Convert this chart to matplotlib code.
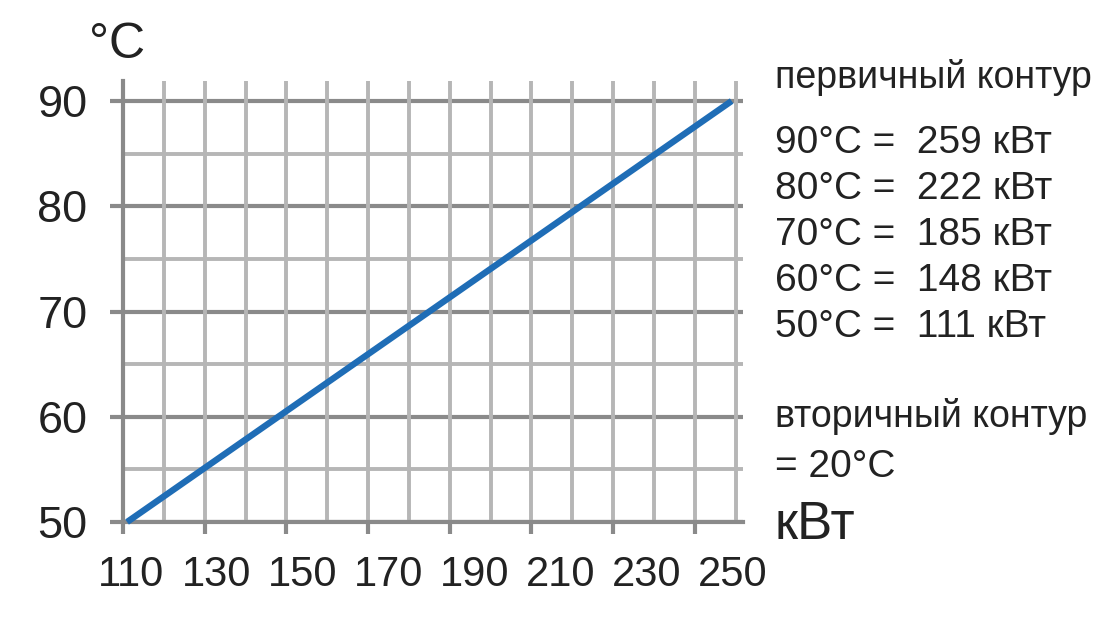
'''
Heat exchanger output vs primary circuit temperature (secondary circuit 20°C)
'''
import matplotlib
matplotlib.use('Agg')
import matplotlib.pyplot as plt
import numpy as np

plt.rcParams['font.family'] = ['Liberation Sans', 'DejaVu Sans']

# data
power_kw = [111, 148, 185, 222, 259]
temp_c = [50, 60, 70, 80, 90]

x_ticks = [110, 130, 150, 170, 190, 210, 230, 250]
x_grid = [120, 130, 140, 150, 160, 170, 180, 190, 200, 210, 220, 230, 240, 250, 260]
y_major = [50, 60, 70, 80, 90]
y_minor = [55, 65, 75, 85]

legend_lines = ['90°C =  259 кВт', '80°C =  222 кВт', '70°C =  185 кВт',
                '60°C =  148 кВт', '50°C =  111 кВт']

dark = '#8a8a8a'
light = '#b6b6b6'
txt = '#222222'
W, H = 1120, 634

fig = plt.figure(figsize=(11.2, 6.34), dpi=100)
ax = fig.add_axes([123/W, 1-522/H, 620/W, 441/H])

xmin, xmax = 110, 110 + 620/4.085
ymin, ymax = 50, 50 + 441/10.525
ax.set_xlim(xmin, xmax)
ax.set_ylim(ymin, ymax)

# grid
ax.hlines(y_minor, xmin, xmax, color=light, lw=2.8, zorder=1)
ax.hlines(y_major, xmin, xmax, color=dark, lw=3.0, zorder=1.5)
ax.vlines(x_grid, ymin, ymax, color=light, lw=2.8, zorder=2)

for s in ['top', 'right']:
    ax.spines[s].set_visible(False)
for s in ['left', 'bottom']:
    ax.spines[s].set_color(dark)
    ax.spines[s].set_linewidth(3.0)
    ax.spines[s].set_zorder(3)

ax.set_yticks(y_major)
ax.set_yticklabels([str(v) for v in y_major])
ax.tick_params(axis='y', length=9.5, width=3.0, color=dark, pad=16,
               labelsize=32.5, labelcolor=txt)
ax.set_xticks(x_ticks)
ax.tick_params(axis='x', length=8.5, width=3.0, color=dark, labelbottom=False)

# x labels drift a bit wider than the ticks in the original
for i, v in enumerate(x_ticks):
    ax.annotate(str(v), xy=(v, 0), xycoords=('data', 'axes fraction'),
                xytext=(8 + 4.2*i, -53), textcoords='offset pixels',
                ha='center', va='center', fontsize=30, color=txt,
                annotation_clip=False)

ax.plot(power_kw, temp_c, color='#1f6db6', lw=4.6, zorder=4,
        solid_capstyle='butt', clip_on=False)

# texts
fig.text(117/W, 1-45/H, '°C', fontsize=36, color=txt, ha='center', va='center')
fig.text(775/W, 1-525/H, 'кВт', fontsize=38, color=txt, ha='left', va='center')
fig.text(775/W, 1-88/H, 'первичный контур', fontsize=27, color=txt,
         ha='left', va='baseline')
for i, s in enumerate(legend_lines):
    fig.text(775/W, 1-(153 + 46*i)/H, s, fontsize=28, color=txt,
             ha='left', va='baseline')
fig.text(775/W, 1-427/H, 'вторичный контур', fontsize=27, color=txt,
         ha='left', va='baseline')
fig.text(775/W, 1-477/H, '= 20°C', fontsize=28, color=txt,
         ha='left', va='baseline')

fig.savefig('out.png', dpi=100)
